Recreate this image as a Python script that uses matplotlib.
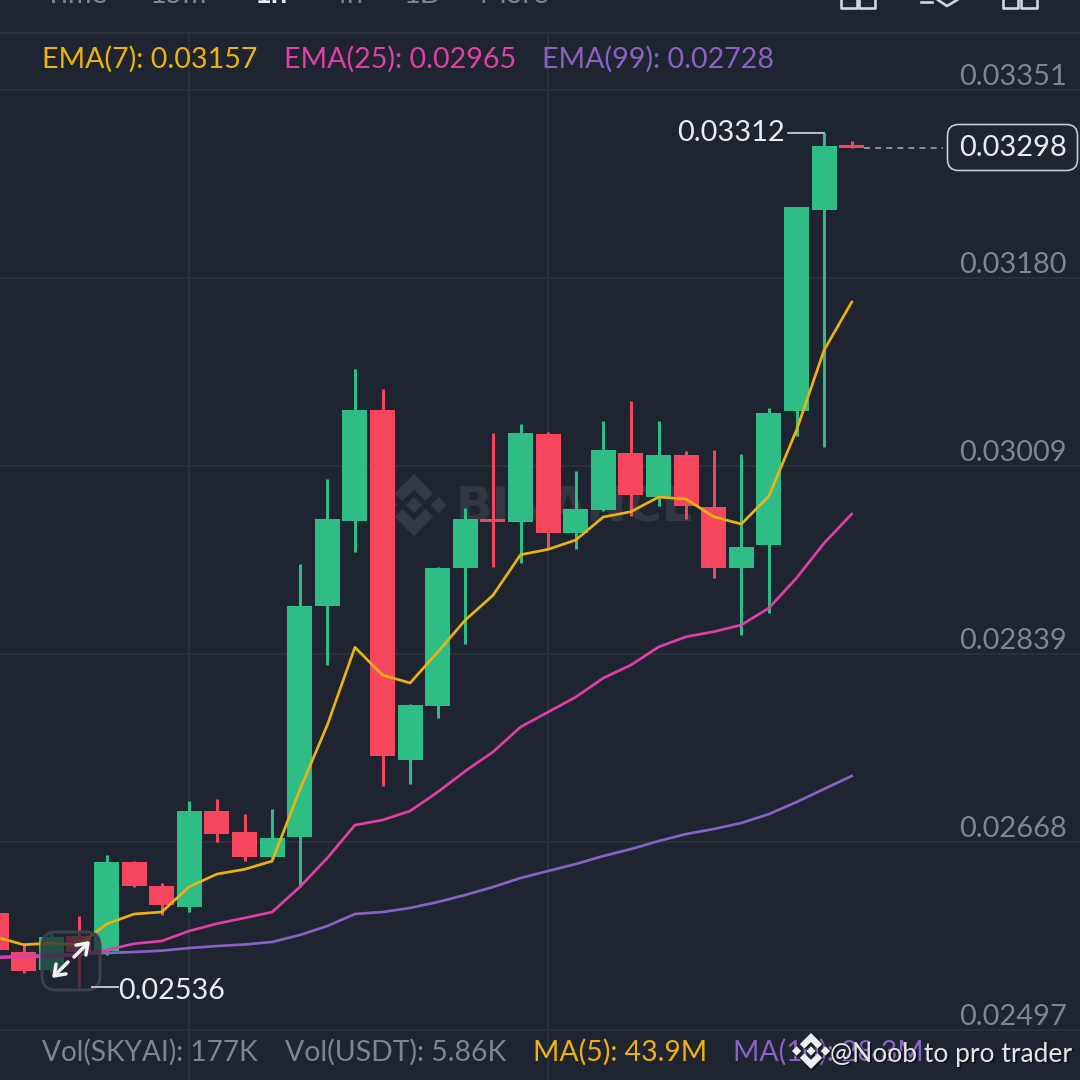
import matplotlib
matplotlib.use("Agg")
import matplotlib.pyplot as plt
from matplotlib.patches import FancyBboxPatch, Polygon, Rectangle

opens = [0.026033, 0.025679, 0.025515, 0.025824, 0.025685, 0.026494, 0.026281, 0.026085,
         0.026963, 0.026766, 0.026545, 0.026726, 0.028822, 0.029592, 0.030603, 0.027423,
         0.027914, 0.029170, 0.029610, 0.029583, 0.030382, 0.029483, 0.029694, 0.030212,
         0.029815, 0.030191, 0.029719, 0.029170, 0.029374, 0.030596, 0.032420, 0.033010]
closes = [0.025697, 0.025509, 0.025815, 0.025679, 0.026494, 0.026281, 0.026103, 0.026963,
          0.026748, 0.026545, 0.026712, 0.028822, 0.029610, 0.030603, 0.027459, 0.027923,
          0.029170, 0.029610, 0.029583, 0.030391, 0.029483, 0.029701, 0.030239, 0.029833,
          0.030191, 0.029733, 0.029170, 0.029358, 0.030573, 0.032447, 0.033001, 0.032980]
highs = [0.026033, 0.025760, 0.025851, 0.026006, 0.026563, 0.026505, 0.026303, 0.027053,
         0.027066, 0.026935, 0.026975, 0.029201, 0.029973, 0.030975, 0.030794, 0.027932,
         0.029176, 0.029710, 0.030391, 0.030476, 0.030403, 0.030051, 0.030503, 0.030685,
         0.030503, 0.030230, 0.030239, 0.030200, 0.030624, 0.032447, 0.033120, 0.033049]
lows = [0.025679, 0.025488, 0.025497, 0.025360, 0.025654, 0.026272, 0.026015, 0.026045,
        0.026675, 0.026503, 0.026537, 0.026269, 0.028286, 0.029310, 0.027187, 0.027205,
        0.027805, 0.028480, 0.029179, 0.029210, 0.029337, 0.029343, 0.029685, 0.029640,
        0.029733, 0.029613, 0.029079, 0.028559, 0.028761, 0.030367, 0.030267, 0.032980]
ema7 = [0.025815, 0.025745, 0.025760, 0.025742, 0.025933, 0.026024, 0.026042, 0.026272,
        0.026387, 0.026430, 0.026505, 0.027150, 0.027741, 0.028447, 0.028195, 0.028123,
        0.028404, 0.028695, 0.028919, 0.029288, 0.029337, 0.029422, 0.029631, 0.029679,
        0.029812, 0.029794, 0.029633, 0.029567, 0.029821, 0.030421, 0.031148, 0.031584]
ema25 = [0.025627, 0.025633, 0.025638, 0.025651, 0.025697, 0.025754, 0.025779, 0.025870,
         0.025936, 0.025988, 0.026042, 0.026269, 0.026533, 0.026832, 0.026878, 0.026960,
         0.027132, 0.027323, 0.027496, 0.027723, 0.027859, 0.027995, 0.028168, 0.028286,
         0.028450, 0.028543, 0.028589, 0.028650, 0.028804, 0.029077, 0.029394, 0.029658]
ema99 = [0.025633, 0.025642, 0.025651, 0.025661, 0.025670, 0.025679, 0.025691, 0.025715,
         0.025733, 0.025747, 0.025770, 0.025833, 0.025915, 0.026024, 0.026042, 0.026079,
         0.026133, 0.026197, 0.026269, 0.026351, 0.026415, 0.026478, 0.026551, 0.026614,
         0.026687, 0.026751, 0.026796, 0.026851, 0.026932, 0.027041, 0.027160, 0.027278]
price_ticks = [0.03351, 0.03180, 0.03009, 0.02839, 0.02668, 0.02497]
time_grid = [7, 20]
high_label = 0.03312
low_label = 0.02536
last_price = 0.03298
high_idx = 30
low_idx = 3
last_idx = 31

BG = "#1f2530"
GRID = "#2b313c"
GREEN = "#2ebd85"
RED = "#f6465d"
YEL = "#ecb210"
PINK = "#e03fa8"
PUR = "#8a62c2"
GRAY = "#7e8590"
WHITE = "#eaecef"
FONT = "Lato"
plt.rcParams["font.family"] = [FONT, "DejaVu Sans"]

fig = plt.figure(figsize=(10.8, 10.8), dpi=100, facecolor=BG)


def px(v):
    return v * 0.72


# underlay in pixel coordinates: watermark
under = fig.add_axes([0, 0, 1, 1], zorder=1)
under.set_xlim(0, 1080)
under.set_ylim(1080, 0)
under.axis("off")
under.set_facecolor(BG)


def binance_logo(a, cx, cy, r, color, zorder=5):
    shapes = [
        [(0, -1), (0.62, -0.38), (0.37, -0.13), (0, -0.5), (-0.37, -0.13), (-0.62, -0.38)],
        [(0, 1), (0.62, 0.38), (0.37, 0.13), (0, 0.5), (-0.37, 0.13), (-0.62, 0.38)],
        [(0, -0.26), (0.26, 0), (0, 0.26), (-0.26, 0)],
        [(0.8, -0.26), (1.06, 0), (0.8, 0.26), (0.54, 0)],
        [(-0.8, -0.26), (-0.54, 0), (-0.8, 0.26), (-1.06, 0)],
    ]
    for s in shapes:
        a.add_patch(Polygon([(cx + r * x, cy + r * y) for x, y in s], closed=True,
                            facecolor=color, edgecolor="none", zorder=zorder))


binance_logo(under, 414, 505, 31, "#343a45")
under.text(456, 522, "BINANCE", fontsize=px(48), fontweight="bold", color="#313843",
           ha="left", va="baseline", family="DejaVu Sans")

# main chart
ax = fig.add_axes([0, 0, 1, 1], zorder=2)
ax.patch.set_alpha(0)
ax.set_xlim(0.1413, 39.27)
ax.set_ylim(0.024516, 0.034328)
for s in ax.spines.values():
    s.set_visible(False)
ax.set_yticks(price_ticks)
ax.set_yticklabels([f"{v:.5f}" for v in price_ticks])
ax.set_xticks(time_grid)
ax.set_xticklabels([])
ax.yaxis.tick_right()
ax.tick_params(axis="both", length=0)
ax.tick_params(axis="y", pad=-9.4, labelsize=px(29), labelcolor=GRAY)
ax.grid(True, color=GRID, linewidth=px(2))
ax.set_axisbelow(True)
for lab in ax.get_yticklabels():
    lab.set_ha("right")
    lab.set_va("bottom")

idx = list(range(len(opens)))
colors = [GREEN if c >= o else RED for o, c in zip(opens, closes)]
ax.vlines(idx, lows, highs, colors=colors, linewidth=px(3), zorder=3)
ax.bar(idx, [max(abs(c - o), 0.00002) for o, c in zip(opens, closes)],
       bottom=[min(o, c) for o, c in zip(opens, closes)],
       width=0.906, color=colors, linewidth=0, zorder=3)
ax.plot(idx, ema99, color=PUR, linewidth=px(2.7), zorder=4)
ax.plot(idx, ema25, color=PINK, linewidth=px(2.7), zorder=4.1)
ax.plot(idx, ema7, color=YEL, linewidth=px(2.7), zorder=4.2)

# price markers
ax.annotate(f"{high_label:.5f}", xy=(high_idx, high_label), xytext=(px(-39), 0),
            textcoords="offset points", color=WHITE, fontsize=px(29), ha="right",
            va="center", arrowprops=dict(arrowstyle="-", color="#b7bdc6", lw=px(2),
                                         shrinkA=0, shrinkB=0))
ax.annotate(f"{low_label:.5f}", xy=(low_idx, low_label), xytext=(px(39), px(-3.5)),
            textcoords="offset points", color=WHITE, fontsize=px(28.7), ha="left",
            va="center", zorder=8)
ax.plot([last_idx + 0.45, 34.3], [last_price, last_price], color="#aab0b8",
        linewidth=px(1.5), dashes=(4, 3.4), zorder=3)
ax.text(36.83, last_price, f"{last_price:.5f}", color=WHITE, fontsize=px(29),
        ha="center", va="center", zorder=6)

# overlay in pixel coordinates
top = fig.add_axes([0, 0, 1, 1], zorder=3)
top.set_xlim(0, 1080)
top.set_ylim(1080, 0)
top.axis("off")
top.patch.set_alpha(0)
top.add_patch(Rectangle((0, 0), 1080, 32, facecolor=BG, edgecolor="none"))
top.plot([0, 1080], [33, 33], color=GRID, linewidth=px(2))
top.add_patch(FancyBboxPatch((947.5, 124.5), 130, 46, boxstyle="round,pad=0,rounding_size=11",
                             facecolor="none", edgecolor="#c9ced6", linewidth=px(1.6)))
top.plot([92, 118], [987.3, 987.3], color="#b7bdc6", linewidth=px(2))

# header remains, cut by the top edge
for x, t, c in [(45, "Time", GRAY), (150, "15m", GRAY), (254, "1h", WHITE),
                (331, "4h", GRAY), (404, "1D", GRAY), (479, "More", GRAY)]:
    top.text(x, 3, t, color=c, fontsize=px(29), ha="left", va="baseline",
             fontweight="bold" if c == WHITE else "normal")
for x0, x1 in [(841, 857), (859, 875), (1003, 1018), (1021, 1037)]:
    top.plot([x0, x0, x1, x1], [0, 8, 8, 0], color="#d5d8dc", linewidth=px(2.6))
top.plot([921, 932], [2, 2], color="#d5d8dc", linewidth=px(2.6))
top.plot([938, 947, 957], [0, 6, 0], color="#d5d8dc", linewidth=px(2.6))

# legends
for x, t, c in [(42, "EMA(7): 0.03157", YEL), (284, "EMA(25): 0.02965", PINK),
                (542, "EMA(99): 0.02728", PUR)]:
    top.text(x, 59, t, color=c, fontsize=px(28.6), ha="left", va="center")
for x, t, c, s in [(42, "Vol(SKYAI): 177K", GRAY, 28), (285, "Vol(USDT): 5.86K", GRAY, 28.4),
                   (533, "MA(5): 43.9M", YEL, 28.4), (733, "MA(10): 28.3M", PUR, 28.4)]:
    top.text(x, 1052.5, t, color=c, fontsize=px(s), ha="left", va="center")

# expand button
top.add_patch(FancyBboxPatch((42, 932), 58, 58, boxstyle="round,pad=0,rounding_size=14",
                             facecolor=(0.12, 0.145, 0.19, 0.72), edgecolor="#3a404c",
                             linewidth=px(3)))
arrow = dict(arrowstyle="->,head_length=0.7,head_width=0.5", color="#f2f3f5", lw=px(3.5),
             shrinkA=0, shrinkB=0)
top.annotate("", xy=(90, 941), xytext=(74, 957), arrowprops=arrow)
top.annotate("", xy=(52, 978), xytext=(68, 962), arrowprops=arrow)

# author mark
binance_logo(top, 812, 1052, 19, "#0f1218", zorder=6)
binance_logo(top, 811, 1051, 18, "#eceef0", zorder=7)
top.text(831.5, 1056, "@Noob to pro trader", color="#0f1218", fontsize=px(26.4),
         ha="left", va="center", zorder=6)
top.text(830, 1054.5, "@Noob to pro trader", color="#e2e4e8", fontsize=px(26.4),
         ha="left", va="center", zorder=7)

fig.savefig("out.png", dpi=100, facecolor=BG)
